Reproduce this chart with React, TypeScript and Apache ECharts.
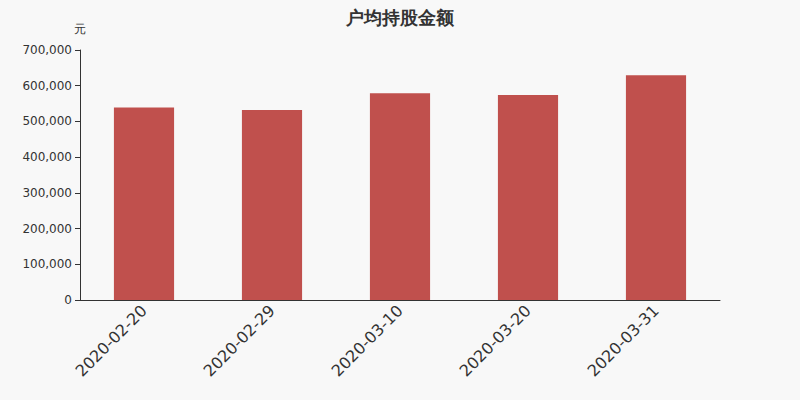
import { useEffect, useRef } from 'react'
import * as echarts from 'echarts'

const categorias = ['2020-02-20', '2020-02-29', '2020-03-10', '2020-03-20', '2020-03-31']
const valores = [539000, 532000, 579000, 574000, 629000]

export default function App() {
  const containerRef = useRef<HTMLDivElement>(null)

  useEffect(() => {
    document.body.style.margin = '0'
    if (!containerRef.current) return
    const instancia = echarts.init(containerRef.current, undefined, { renderer: 'svg' })
    instancia.setOption({
      animation: false,
      backgroundColor: '#f8f8f8',
      textStyle: { fontFamily: 'DejaVu Sans, sans-serif' },
      title: {
        text: '户均持股金额',
        left: 'center',
        top: 3,
        textStyle: { fontSize: 18, fontWeight: 'bold', color: '#333' },
      },
      grid: { left: 80, right: 80, top: 50, bottom: 100 },
      xAxis: {
        type: 'category',
        data: categorias,
        axisLine: { lineStyle: { color: '#333' } },
        axisTick: { lineStyle: { color: '#333' } },
        axisLabel: { rotate: 45, fontSize: 16, color: '#333', margin: 8 },
      },
      yAxis: {
        type: 'value',
        name: '元',
        nameGap: 15,
        nameTextStyle: { color: '#333', fontSize: 12, align: 'center' },
        min: 0,
        max: 700000,
        interval: 100000,
        axisLine: { show: true, lineStyle: { color: '#333' } },
        axisTick: { show: true, lineStyle: { color: '#333' } },
        splitLine: { show: false },
        axisLabel: {
          color: '#333',
          fontSize: 12,
          formatter: (v: number) => v.toLocaleString('en-US'),
        },
      },
      series: [
        {
          type: 'bar',
          data: valores,
          barWidth: '47%',
          itemStyle: { color: '#c0504d' },
        },
      ],
    })
    return () => instancia.dispose()
  }, [])

  return <div ref={containerRef} style={{ width: 800, height: 400 }} />
}
